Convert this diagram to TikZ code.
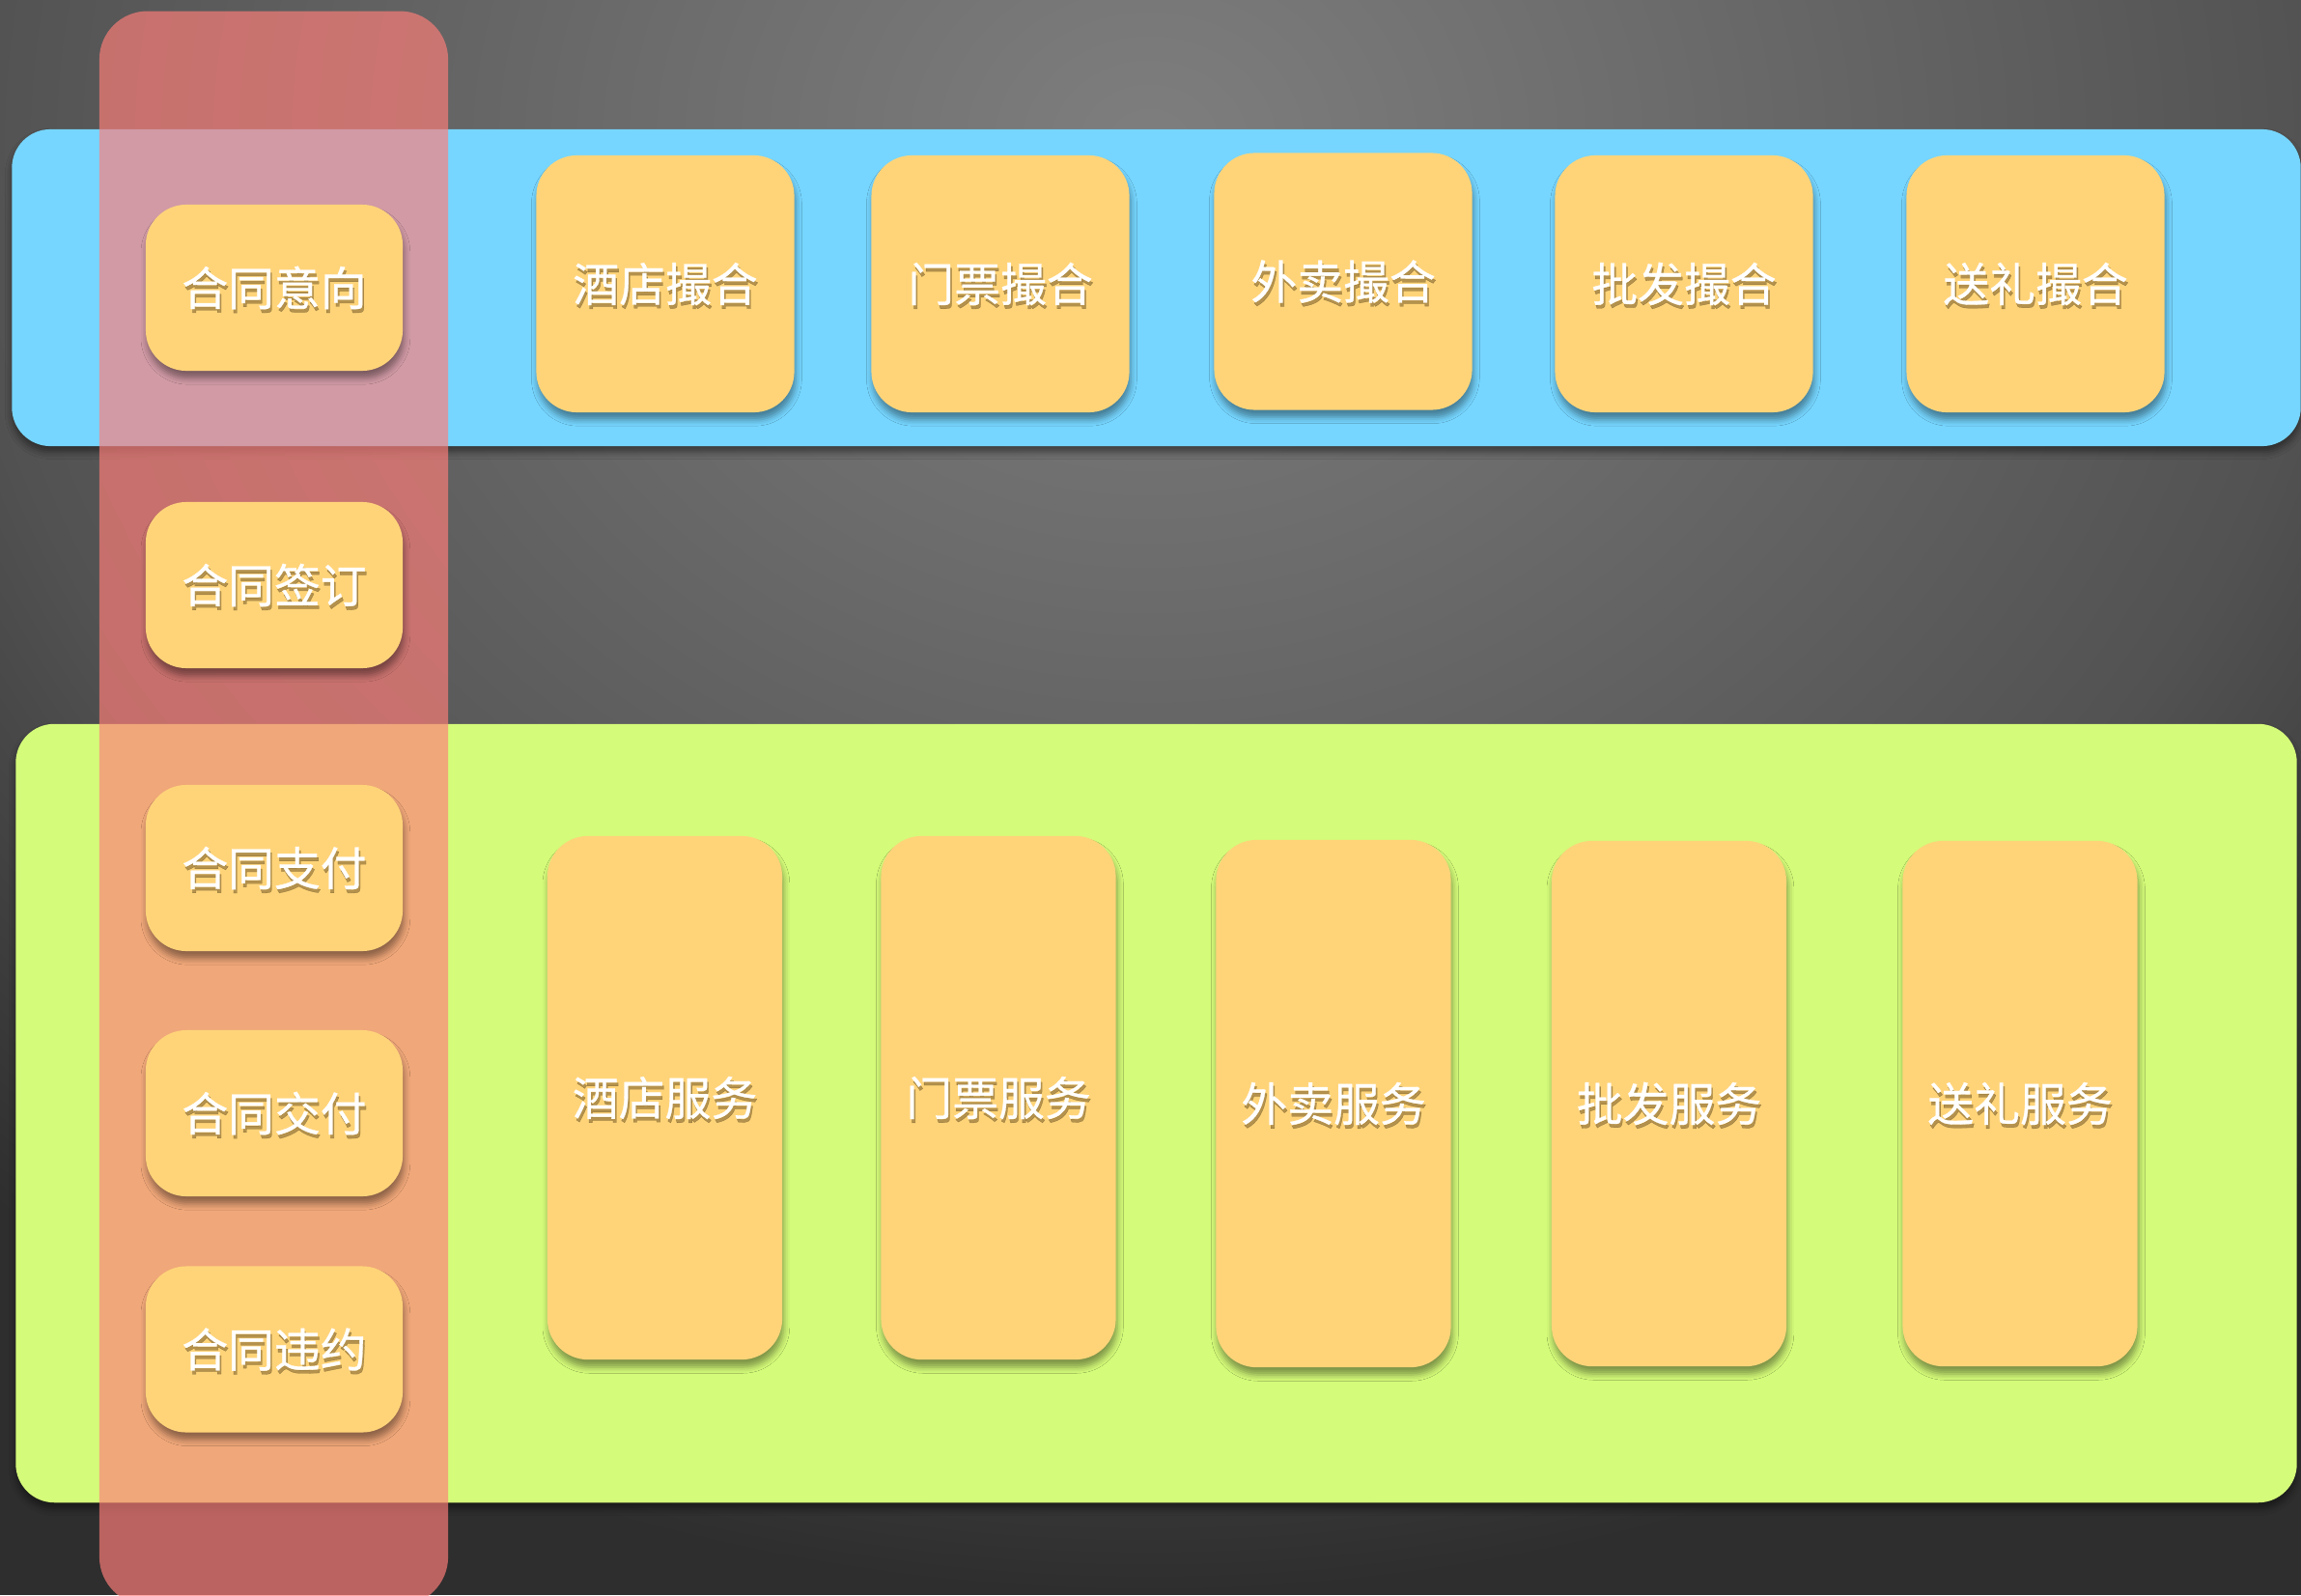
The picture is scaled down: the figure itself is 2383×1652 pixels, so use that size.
\documentclass[tikz,border=0pt]{standalone}
\usepackage{fontspec}
\newfontfamily\cjk{Noto Sans CJK SC}[FakeBold=0.6]
\usetikzlibrary{shadows.blur}
\definecolor{sky}{HTML}{76D6FF}
\definecolor{honeydew}{HTML}{D4FB79}
\definecolor{salmon}{HTML}{FF7E79}
\definecolor{cantaloupe}{HTML}{FFD479}
\definecolor{shadowbrown}{HTML}{5A4318}
\definecolor{bgA}{HTML}{7E7E7E}
\definecolor{bgB}{HTML}{6C6C6C}
\definecolor{bgC}{HTML}{525252}
\definecolor{bgD}{HTML}{2E2E2E}
\pgfdeclareradialshading{bgshade}{\pgfpoint{0bp}{0bp}}{color(0bp)=(bgA); color(7.5bp)=(bgB); color(17.5bp)=(bgC); color(25bp)=(bgD); color(50bp)=(bgD)}
\tikzset{
  lbl/.style={font=\cjk\fontsize{13.6pt}{16pt}\selectfont, inner sep=0pt},
  band/.style={rounded corners=0.4cm, inner sep=0pt, outer sep=0pt,
    blur shadow={shadow xshift=0pt, shadow yshift=-1.8pt, shadow blur radius=2pt, shadow opacity=45}},
  card/.style={fill=cantaloupe, rounded corners=0.42cm, inner sep=0pt, outer sep=0pt,
    blur shadow={shadow xshift=0.4pt, shadow yshift=-2.2pt, shadow blur radius=1.8pt, shadow opacity=40}},
  txtshadow/.style={lbl, text=shadowbrown, text opacity=0.45},
  txtmain/.style={lbl, text=white},
  sz/.style 2 args={minimum width=#1, minimum height=#2}
}
\newcommand\mkcard[6]{%
  \node[card, sz={#4}{#5}] (#1) at (#2,#3) {};
  \node[txtshadow] (#1-s) at ([xshift=0.45pt, yshift=-1.1pt]#1.center) {#6};
  \node[txtmain] (#1-t) at (#1.center) {#6};
}
\begin{document}
\begin{tikzpicture}[x=0.01cm, y=-0.01cm]
\useasboundingbox (0,0) rectangle (2383,1652);
% background
\begin{scope}
  \clip (0,0) rectangle (2383,1652);
  \fill[bgD] (0,0) rectangle (2383,1652);
  \shade[shading=bgshade] (1190,150) ellipse [x radius=17.5cm, y radius=15cm];
\end{scope}
% bands
\node[band, fill=sky, sz={23.69cm}{3.28cm}] (topband) at (1197.5,298) {};
\node[band, fill=honeydew, sz={23.61cm}{8.06cm}] (botband) at (1197.5,1153) {};
% red column
\node[fill=salmon, fill opacity=0.67, rounded corners=0.5cm, inner sep=0pt, sz={3.61cm}{16.5cm}] (col) at (283.5,837) {};
% left column cards
\mkcard{l1}{284}{298}{2.66cm}{1.72cm}{合同意向}
\mkcard{l2}{284}{606}{2.66cm}{1.72cm}{合同签订}
\mkcard{l3}{284}{899}{2.66cm}{1.72cm}{合同支付}
\mkcard{l4}{284}{1153}{2.66cm}{1.72cm}{合同交付}
\mkcard{l5}{284}{1397.5}{2.66cm}{1.72cm}{合同违约}
% top cards
\mkcard{t1}{689}{294}{2.67cm}{2.66cm}{酒店撮合}
\mkcard{t2}{1036}{294}{2.67cm}{2.66cm}{门票撮合}
\mkcard{t3}{1391}{291.5}{2.67cm}{2.66cm}{外卖撮合}
\mkcard{t4}{1744}{294}{2.67cm}{2.66cm}{批发撮合}
\mkcard{t5}{2108}{294}{2.67cm}{2.66cm}{送礼撮合}
% bottom cards
\mkcard{b1}{688.5}{1137}{2.43cm}{5.42cm}{酒店服务}
\mkcard{b2}{1034}{1137}{2.43cm}{5.42cm}{门票服务}
\mkcard{b3}{1381}{1143}{2.43cm}{5.46cm}{外卖服务}
\mkcard{b4}{1728.5}{1143}{2.43cm}{5.44cm}{批发服务}
\mkcard{b5}{2092}{1143}{2.43cm}{5.44cm}{送礼服务}
\end{tikzpicture}
\end{document}
